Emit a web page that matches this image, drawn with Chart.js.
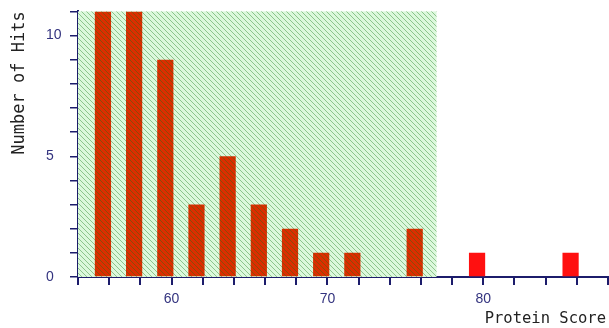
<!DOCTYPE html>
<html>
<head>
<meta charset="utf-8">
<script src="https://cdn.jsdelivr.net/npm/chart.js@4.4.1/dist/chart.umd.min.js"></script>
<style>
  html, body { margin: 0; padding: 0; background: #ffffff; }
  #box { width: 609px; height: 328px; }
</style>
</head>
<body>
<div id="box"><canvas id="hist"></canvas></div>
<script>
// Protein score bins and how many hits landed in each
const scores = [56, 58, 60, 62, 64, 66, 68, 70, 72, 76, 80, 86];
const hits = [11, 11, 9, 3, 5, 3, 2, 1, 1, 2, 1, 1];

// Axis ranges and the shaded "random match" zone
const scoreRange = [54, 88];
const hitRange = [0, 11];
const randomZoneEnd = 77;

const xLabel = "Protein Score";
const yLabel = "Number of Hits";

const navy = "#1c1c6b";

// Bars inside the shaded zone are darker, outside are plain red
const barColors = scores.map((s) => (s < randomZoneEnd ? "#dc2e00" : "#ff1010"));

// hatch pattern for the shaded zone
function makeHatch(ctx) {
  const c = document.createElement("canvas");
  c.width = 5;
  c.height = 5;
  const g = c.getContext("2d");
  g.strokeStyle = "rgba(20,120,20,0.4)";
  g.lineWidth = 1;
  g.beginPath();
  g.moveTo(-1, -1);
  g.lineTo(6, 6);
  g.moveTo(-1, 4);
  g.lineTo(1, 6);
  g.moveTo(4, -1);
  g.lineTo(6, 1);
  g.stroke();
  return ctx.createPattern(c, "repeat");
}

const randomZone = {
  id: "randomZone",
  beforeDatasetsDraw(chart) {
    const { ctx, chartArea, scales } = chart;
    const x0 = scales.x.getPixelForValue(scoreRange[0]);
    const x1 = scales.x.getPixelForValue(randomZoneEnd);
    ctx.save();
    ctx.fillStyle = "#dcf8dc";
    ctx.fillRect(x0, chartArea.top, x1 - x0, chartArea.bottom - chartArea.top);
    ctx.restore();
  },
  afterDatasetsDraw(chart) {
    const { ctx, chartArea, scales } = chart;
    const x0 = scales.x.getPixelForValue(scoreRange[0]);
    const x1 = scales.x.getPixelForValue(randomZoneEnd);
    ctx.save();
    ctx.fillStyle = makeHatch(ctx);
    ctx.fillRect(x0, chartArea.top, x1 - x0, chartArea.bottom - chartArea.top);
    ctx.restore();
  },
  afterDraw(chart) {
    const ctx = chart.ctx;
    ctx.save();
    ctx.fillStyle = "#222222";
    // y title, rotated, sits near the top
    ctx.font = "17px 'DejaVu Sans Mono'";
    ctx.translate(20, 83);
    ctx.rotate(-Math.PI / 2);
    ctx.textAlign = "center";
    ctx.textBaseline = "middle";
    ctx.fillText(yLabel, 0, 0);
    ctx.restore();

    ctx.save();
    ctx.fillStyle = "#222222";
    ctx.font = "15.5px 'DejaVu Sans Mono'";
    ctx.textAlign = "right";
    ctx.textBaseline = "middle";
    ctx.fillText(xLabel, 606, 319);
    ctx.restore();
  },
};

new Chart(document.getElementById("hist"), {
  type: "bar",
  plugins: [randomZone],
  data: {
    datasets: [
      {
        data: scores.map((s, i) => ({ x: s, y: hits[i] })),
        backgroundColor: barColors,
        borderWidth: 0,
        xAxisID: "x2",
        barPercentage: 0.52,
        categoryPercentage: 1,
      },
    ],
  },
  options: {
    responsive: true,
    maintainAspectRatio: false,
    animation: false,
    layout: { padding: { left: 46, right: 1, top: 11, bottom: 20 } },
    plugins: { legend: { display: false }, tooltip: { enabled: false } },
    scales: {
      x: {
        type: "linear",
        offset: false,
        min: scoreRange[0],
        max: scoreRange[1],
        border: { color: navy, width: 2 },
        grid: { offset: false, drawOnChartArea: false, drawTicks: true, tickLength: 8, color: navy, lineWidth: 2 },
        ticks: {
          stepSize: 2,
          autoSkip: false,
          maxRotation: 0,
          padding: 6,
          color: "#33337f",
          font: { family: "'Liberation Sans'", size: 14 },
          callback: (v) => (v % 10 === 0 ? String(v) : ""),
        },
        afterFit: (s) => {
          s.height = 31;
          s.paddingLeft = 0;
          s.paddingRight = 0;
        },
      },
      // hidden scale the bars sit on, nudged so bars fall just left of each tick
      x2: {
        type: "linear",
        display: false,
        offset: false,
        grid: { offset: false },
        min: scoreRange[0] + 0.4,
        max: scoreRange[1] + 0.4,
      },
      y: {
        min: hitRange[0],
        max: hitRange[1],
        border: { color: navy, width: 2 },
        grid: { drawOnChartArea: false, drawTicks: true, tickLength: 8, color: navy, lineWidth: 1.5 },
        ticks: {
          stepSize: 1,
          autoSkip: false,
          crossAlign: "far",
          color: "#33337f",
          font: { family: "'Liberation Sans'", size: 14 },
          callback: (v) => (v % 5 === 0 ? String(v) : ""),
        },
        afterFit: (s) => { s.width = 32; },
      },
    },
  },
});
</script>
</body>
</html>
